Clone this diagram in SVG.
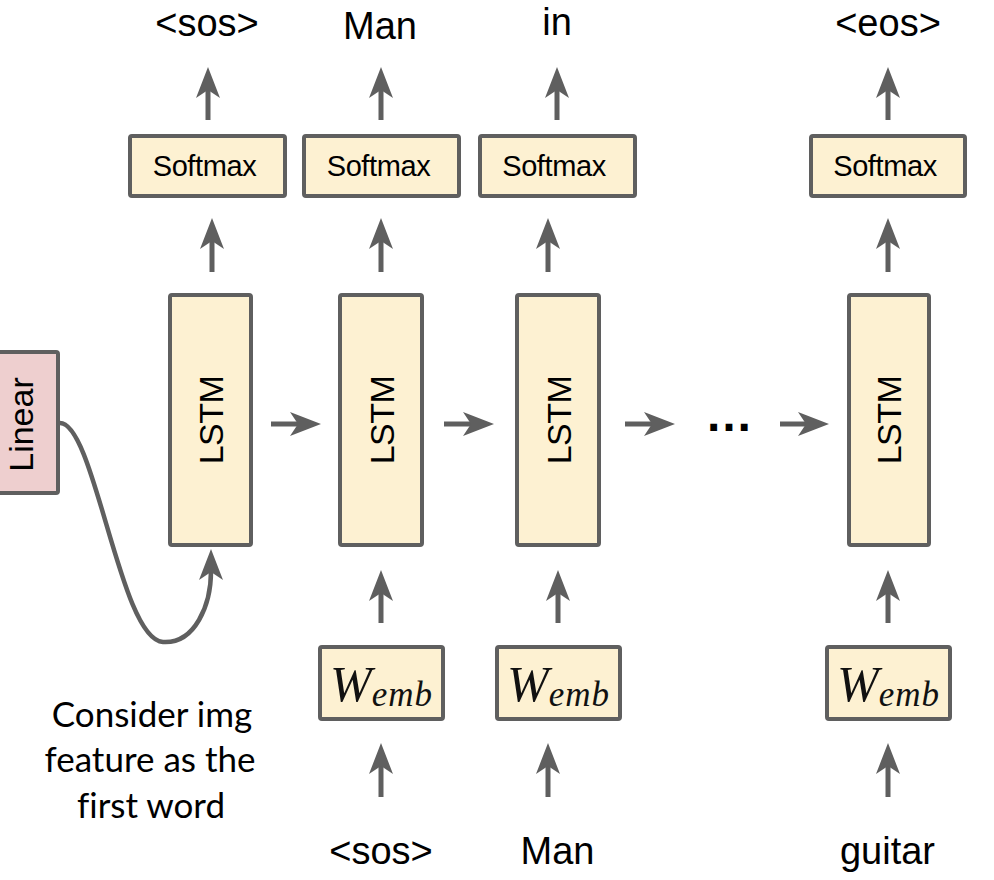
<svg xmlns="http://www.w3.org/2000/svg" width="994" height="880" viewBox="0 0 994 880">
<style>
.box{fill:#FDF1D2;stroke:#5F5F5F;stroke-width:4}
.lin{fill:#EECFCF;stroke:#5F5F5F;stroke-width:4}
.lbl{font-family:"Liberation Sans",Arial,sans-serif;font-size:38px;fill:#000;text-anchor:middle}
.sm{font-family:"Liberation Sans",Arial,sans-serif;font-size:29px;letter-spacing:-0.4px;fill:#000;text-anchor:middle}
.rot{font-family:"Liberation Sans",Arial,sans-serif;font-size:34px;letter-spacing:-0.5px;fill:#000;text-anchor:middle}
.emb{font-family:"Liberation Serif","Times New Roman",serif;font-style:italic;font-size:50px;fill:#111;text-anchor:middle}
.note{font-family:"Lato","Open Sans",sans-serif;font-size:35px;fill:#000;text-anchor:middle;font-variant-ligatures:none;font-feature-settings:"liga" 0}
.arr{fill:none;stroke:#5F5F5F;stroke-width:5;marker-end:url(#ah)}
.crv{fill:none;stroke:#5F5F5F;stroke-width:4.5;marker-end:url(#ah)}
</style>
<defs>
<marker id="ah" markerUnits="userSpaceOnUse" orient="auto" refX="0" refY="0" markerWidth="60" markerHeight="60" viewBox="-30 -30 60 60" overflow="visible">
<path d="M22,0 L-9,-12 L-1,0 L-9,12 Z" fill="#5F5F5F"/>
</marker>
</defs>

<g id="connectors">
<line class="arr" x1="208" y1="120" x2="208" y2="89"/>
<line class="arr" x1="381" y1="120" x2="381" y2="89"/>
<line class="arr" x1="557" y1="120" x2="557" y2="89"/>
<line class="arr" x1="888" y1="120" x2="888" y2="89"/>
<line class="arr" x1="212" y1="272" x2="212" y2="240"/>
<line class="arr" x1="381" y1="272" x2="381" y2="240"/>
<line class="arr" x1="548" y1="272" x2="548" y2="240"/>
<line class="arr" x1="888" y1="272" x2="888" y2="240"/>
<line class="arr" x1="381" y1="623" x2="381" y2="592"/>
<line class="arr" x1="558" y1="623" x2="558" y2="592"/>
<line class="arr" x1="888" y1="623" x2="888" y2="592"/>
<line class="arr" x1="381" y1="797" x2="381" y2="765"/>
<line class="arr" x1="548" y1="797" x2="548" y2="765"/>
<line class="arr" x1="888" y1="797" x2="888" y2="765"/>
<line class="arr" x1="271" y1="424" x2="299" y2="424"/>
<line class="arr" x1="444" y1="424" x2="472" y2="424"/>
<line class="arr" x1="625" y1="424" x2="653" y2="424"/>
<line class="arr" x1="780" y1="424" x2="807" y2="424"/>
<path class="crv" d="M60,423 C95,423 120,640 163,642 C195,644 211,605 211,571"/>
</g>

<g id="linear">
<rect class="lin" x="-20" y="352" width="78" height="141" rx="2"/>
<text class="rot" style="font-size:34px;letter-spacing:0" transform="translate(33,424.5) rotate(-90)">Linear</text>
</g>

<g id="lstm1">
<rect class="box" x="170" y="295" width="81" height="250" rx="2"/>
<text class="rot" transform="translate(223,420) rotate(-90)">LSTM</text>
</g>
<g id="lstm2">
<rect class="box" x="340" y="295" width="82" height="250" rx="2"/>
<text class="rot" transform="translate(393.5,420) rotate(-90)">LSTM</text>
</g>
<g id="lstm3">
<rect class="box" x="517" y="295" width="82" height="250" rx="2"/>
<text class="rot" transform="translate(570.5,420) rotate(-90)">LSTM</text>
</g>
<g id="lstm4">
<rect class="box" x="849" y="295" width="80" height="250" rx="2"/>
<text class="rot" transform="translate(901,420) rotate(-90)">LSTM</text>
</g>

<g id="softmax1">
<rect class="box" x="130" y="136" width="155" height="60" rx="2"/>
<text class="sm" x="204.5" y="176">Softmax</text>
</g>
<g id="softmax2">
<rect class="box" x="304" y="136" width="155" height="60" rx="2"/>
<text class="sm" x="378.5" y="176">Softmax</text>
</g>
<g id="softmax3">
<rect class="box" x="480" y="136" width="155" height="60" rx="2"/>
<text class="sm" x="554" y="176">Softmax</text>
</g>
<g id="softmax4">
<rect class="box" x="811" y="136" width="154" height="60" rx="2"/>
<text class="sm" x="885" y="176">Softmax</text>
</g>

<g id="wemb1">
<rect class="box" x="320" y="647" width="123" height="72" rx="2"/>
<text class="emb" x="381.5" y="701">W<tspan font-size="35" dy="5" letter-spacing="1">emb</tspan></text>
</g>
<g id="wemb2">
<rect class="box" x="497" y="647" width="123" height="72" rx="2"/>
<text class="emb" x="558.5" y="701">W<tspan font-size="35" dy="5" letter-spacing="1">emb</tspan></text>
</g>
<g id="wemb3">
<rect class="box" x="827" y="647" width="123" height="72" rx="2"/>
<text class="emb" x="888.5" y="701">W<tspan font-size="35" dy="5" letter-spacing="1">emb</tspan></text>
</g>

<g id="outputs">
<text class="lbl" x="207" y="36">&lt;sos&gt;</text>
<text class="lbl" x="380" y="39">Man</text>
<text class="lbl" x="557" y="35">in</text>
<text class="lbl" x="888" y="36">&lt;eos&gt;</text>
</g>
<g id="inputs">
<text class="lbl" x="381" y="864">&lt;sos&gt;</text>
<text class="lbl" x="557.5" y="864">Man</text>
<text class="lbl" x="887.5" y="864">guitar</text>
</g>
<g id="ellipsis">
<text class="lbl" style="font-size:48px;font-weight:bold" x="729" y="431">…</text>
</g>
<g id="note">
<text class="note" x="152" y="727">Consider img</text>
<text class="note" x="150" y="772">feature as the</text>
<text class="note" x="151" y="818">first word</text>
</g>
</svg>
